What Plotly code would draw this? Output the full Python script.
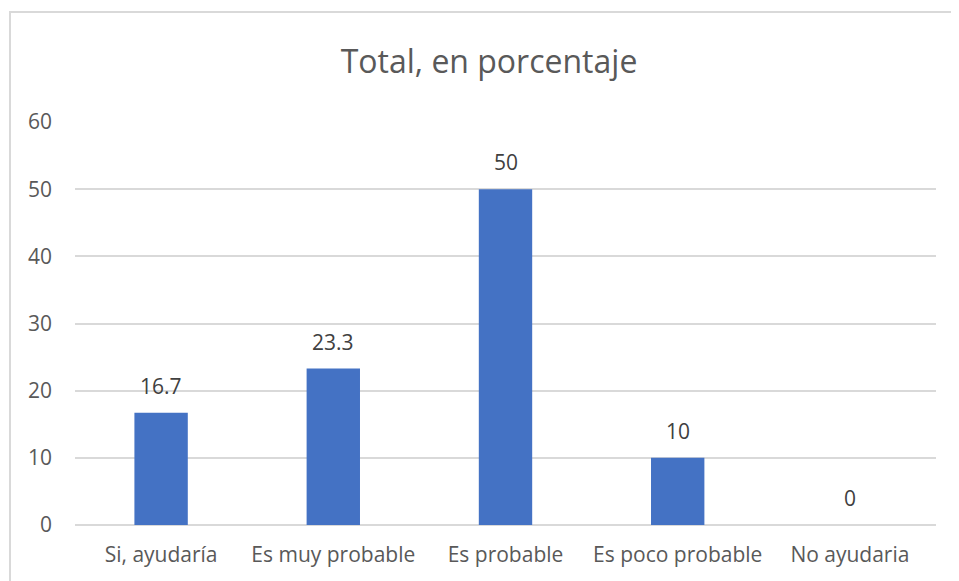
import plotly.graph_objects as go

categories = ["Si, ayudaría", "Es muy probable", "Es probable", "Es poco probable", "No ayudaria"]
values = [16.7, 23.3, 50, 10, 0]
value_labels = ["16.7", "23.3", "50", "10", "0"]
y_ticks = [0, 10, 20, 30, 40, 50, 60]

FONT = "Open Sans, sans-serif"
GREY = "#595959"

# page body has an 8px margin; shift everything to compensate
OFF = 8
W, H = 959, 581
L, R, T, B = 75 - OFF, 23 + OFF, 122 - OFF, 56 + OFF
pw, ph = W - L - R, H - T - B

fig = go.Figure()
fig.add_trace(go.Bar(x=categories, y=values, marker=dict(color="#4472C4", line=dict(width=0)),
                     hoverinfo="skip"))

for c, v, t in zip(categories, values, value_labels):
    fig.add_annotation(x=c, y=v, text=t, showarrow=False, yanchor="bottom", yshift=11,
                       font=dict(family=FONT, size=21, color="#404040"))

fig.add_shape(type="rect", xref="paper", yref="paper",
              x0=(10 - OFF - L) / pw, x1=(W + 20 - L) / pw,
              y0=-(H + 20 - T - ph) / ph, y1=1 + (T - (12 - OFF)) / ph,
              line=dict(color="#d9d9d9", width=2), layer="below")

fig.update_layout(
    width=W, height=H,
    margin=dict(l=L, r=R, t=T, b=B),
    paper_bgcolor="white", plot_bgcolor="white",
    bargap=0.69,
    showlegend=False,
    title=dict(text="Total, en porcentaje", x=(489 - OFF - L) / pw, xref="paper", xanchor="center",
               y=1 - (62 - OFF) / H, yanchor="middle",
               font=dict(family=FONT, size=32, color=GREY)),
    font=dict(family=FONT, color=GREY),
)
fig.update_xaxes(showgrid=False, showline=False, ticks="", zeroline=False,
                 tickfont=dict(family=FONT, size=21, color=GREY), ticklabelstandoff=15)
fig.update_yaxes(range=[0, 60], tickvals=y_ticks, showgrid=True, gridcolor="#d9d9d9", gridwidth=1.5,
                 zeroline=True, zerolinecolor="#d9d9d9", zerolinewidth=1.5,
                 showline=False, ticks="", tickfont=dict(family=FONT, size=21, color=GREY),
                 ticklabelstandoff=22)

fig.write_html("out.html")
